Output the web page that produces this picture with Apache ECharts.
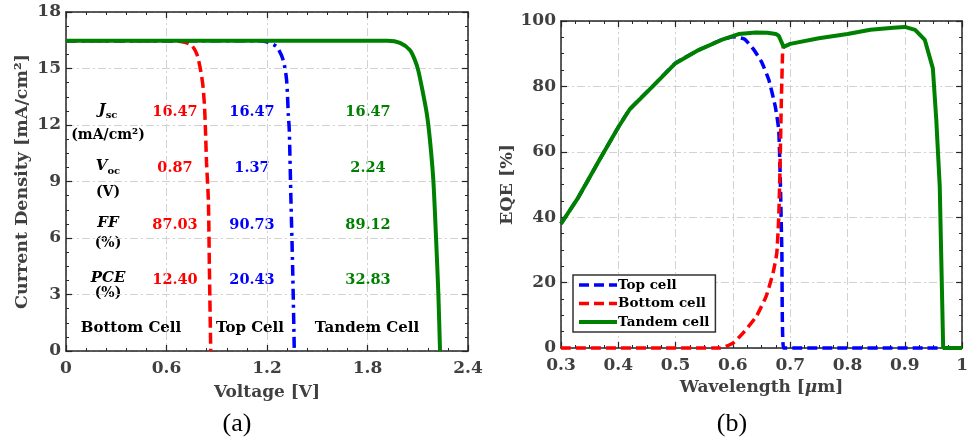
<!DOCTYPE html>
<html><head><meta charset="utf-8">
<script src="https://cdn.jsdelivr.net/npm/echarts@6/dist/echarts.min.js"></script>
<style>html,body{margin:0;padding:0;background:#fff}#c{width:971px;height:441px}</style>
</head><body><div id="c"></div>
<script>
// ---- Panel (a): J-V curves ----
const bottomV = [0, 0.60, 0.70, 0.75, 0.78, 0.80, 0.816, 0.826, 0.832, 0.839, 0.85, 0.856, 0.864];
const bottomJ = [16.47, 16.47, 16.41, 16.23, 15.79, 15.08, 14.2, 13.14, 11.9, 10.0, 8.0, 4.46, 0];
const topV = [0, 1.15, 1.198, 1.258, 1.297, 1.317, 1.327, 1.333, 1.343, 1.353, 1.363];
const topJ = [16.47, 16.47, 16.41, 16.15, 15.44, 14.38, 12.6, 11.72, 8.0, 4.46, 0];
const tandemV = [0, 1.92, 1.994, 2.054, 2.084, 2.103, 2.124, 2.154, 2.173, 2.193, 2.209, 2.223, 2.233];
const tandemJ = [16.47, 16.47, 16.36, 15.97, 15.43, 14.9, 14.02, 12.6, 11.19, 9.07, 6.05, 3.05, 0];

// table of parameters
const paramUnits = ['(mA/cm²)', '(V)', '(%)', '(%)'];
const bottomParams = ['16.47', '0.87', '87.03', '12.40'];
const topParams = ['16.47', '1.37', '90.73', '20.43'];
const tandemParams = ['16.47', '2.24', '89.12', '32.83'];
const cellNames = ['Bottom Cell', 'Top Cell', 'Tandem Cell'];

// ---- Panel (b): EQE ----
const tandemWl = [0.30, 0.33, 0.367, 0.40, 0.42, 0.46, 0.50, 0.54, 0.58, 0.61, 0.64, 0.66, 0.675, 0.68, 0.6885, 0.70, 0.75, 0.80, 0.84, 0.88, 0.90, 0.918, 0.935, 0.949, 0.955, 0.961, 0.967, 1.00];
const tandemEqe = [38.0, 46.0, 57.5, 67.5, 73.0, 80.0, 87.1, 91.1, 94.2, 96.0, 96.5, 96.4, 96.0, 95.5, 92.1, 93.0, 94.7, 96.0, 97.3, 97.9, 98.2, 97.3, 94.2, 85.5, 69.7, 49.4, 0, 0];
const topWl = [0.30, 0.33, 0.367, 0.40, 0.42, 0.46, 0.50, 0.54, 0.58, 0.60, 0.62, 0.637, 0.65, 0.6627, 0.674, 0.68, 0.683, 0.6855, 0.6885, 0.965];
const topEqe = [38.0, 46.0, 57.5, 67.5, 73.0, 80.0, 87.1, 91.1, 94.2, 95.2, 94.5, 91.1, 87.5, 82.0, 73.8, 66.7, 49.4, 29.0, 0, 0];
const botWl = [0.30, 0.578, 0.60, 0.618, 0.641, 0.658, 0.67, 0.6766, 0.68, 0.6823, 0.6846, 0.6869, 0.688];
const botEqe = [0, 0, 1.5, 4.6, 9.7, 15.8, 22.9, 29.0, 40.0, 55.5, 75.9, 91.1, 92.0];

const zip = (a, b) => a.map((v, i) => [v, b[i]]);

const FONT = 'DejaVu Serif';
const AX = '#262626';
const LBL = '#404040';
const GRIDC = '#d2d2d2';

function xAx(grid, min, max, interval, minorSplit, name, nameGap, top) {
  return {
    type: 'value', gridIndex: grid, min: min, max: max, interval: interval,
    position: top ? 'top' : 'bottom',
    name: top ? '' : name, nameLocation: 'middle', nameGap: nameGap,
    nameTextStyle: {fontFamily: FONT, fontWeight: 'bold', fontSize: 17, color: LBL, rich: {i: {fontFamily: FONT, fontWeight: 'bold', fontStyle: 'italic', fontSize: 17, color: LBL}}},
    axisLine: {show: true, onZero: false, lineStyle: {color: AX, width: 1.5}},
    axisTick: {show: true, inside: true, length: 6, lineStyle: {color: AX, width: 1.2}},
    minorTick: {show: true, splitNumber: minorSplit, length: 3, lineStyle: {color: AX, width: 1}},
    axisLabel: {show: !top, margin: 9, fontFamily: FONT, fontWeight: 'bold', fontSize: 17, color: LBL},
    splitLine: {show: !top, lineStyle: {color: GRIDC, width: 1, type: [8, 3, 2, 3]}},
    minorSplitLine: {show: false}
  };
}
function yAx(grid, min, max, interval, minorSplit, name, nameGap, right) {
  return {
    type: 'value', gridIndex: grid, min: min, max: max, interval: interval,
    position: right ? 'right' : 'left',
    name: right ? '' : name, nameLocation: 'middle', nameGap: nameGap, nameRotate: 90,
    nameTextStyle: {fontFamily: FONT, fontWeight: 'bold', fontSize: 17.5, color: LBL},
    axisLine: {show: true, onZero: false, lineStyle: {color: AX, width: 1.5}},
    axisTick: {show: true, inside: true, length: 6, lineStyle: {color: AX, width: 1.2}},
    minorTick: {show: true, splitNumber: minorSplit, length: 3, lineStyle: {color: AX, width: 1}},
    axisLabel: {show: !right, margin: 5, fontFamily: FONT, fontWeight: 'bold', fontSize: 17, color: LBL},
    splitLine: {show: !right, lineStyle: {color: GRIDC, width: 1, type: [8, 3, 2, 3]}},
    minorSplitLine: {show: false}
  };
}

const graphics = [];
const rowY = [112, 168, 225, 280];
const unitY = [135, 192, 243, 293];
const labTxt = ['{i|J}{s|sc}', '{i|V}{s|oc}', '{i|FF}', '{i|PCE}'];
const lblRich = {
  i: {fontFamily: FONT, fontWeight: 'bold', fontStyle: 'italic', fontSize: 15, fill: '#000'},
  s: {fontFamily: FONT, fontWeight: 'bold', fontSize: 10, fill: '#000', padding: [10, 0, 0, 0]}
};
for (let k = 0; k < 4; k++) {
  graphics.push({type: 'text', x: 108, y: rowY[k] - 2, style: {text: labTxt[k], rich: lblRich, align: 'center', verticalAlign: 'middle'}});
  graphics.push({type: 'text', x: 108, y: unitY[k], style: {text: paramUnits[k], fontFamily: FONT, fontWeight: 'bold', fontSize: 14, fill: '#000', align: 'center', verticalAlign: 'middle'}});
  graphics.push({type: 'text', x: 175, y: rowY[k], style: {text: bottomParams[k], fontFamily: FONT, fontWeight: 'bold', fontSize: 14.5, fill: '#ff0000', align: 'center', verticalAlign: 'middle'}});
  graphics.push({type: 'text', x: 252, y: rowY[k], style: {text: topParams[k], fontFamily: FONT, fontWeight: 'bold', fontSize: 14.5, fill: '#0000ff', align: 'center', verticalAlign: 'middle'}});
  graphics.push({type: 'text', x: 368, y: rowY[k], style: {text: tandemParams[k], fontFamily: FONT, fontWeight: 'bold', fontSize: 14.5, fill: '#008000', align: 'center', verticalAlign: 'middle'}});
}
const cellX = [131, 250, 367];
cellNames.forEach((t, i) => graphics.push({type: 'text', x: cellX[i], y: 328, style: {text: t, fontFamily: FONT, fontWeight: 'bold', fontSize: 15, fill: '#000', align: 'center', verticalAlign: 'middle'}}));
graphics.push({type: 'text', x: 237, y: 424, style: {text: '(a)', fontFamily: 'Liberation Serif', fontSize: 26, fill: '#000', align: 'center', verticalAlign: 'middle'}});
graphics.push({type: 'text', x: 732, y: 424, style: {text: '(b)', fontFamily: 'Liberation Serif', fontSize: 26, fill: '#000', align: 'center', verticalAlign: 'middle'}});

const chart = echarts.init(document.getElementById('c'), null, {renderer: 'canvas'});
chart.setOption({
  animation: false,
  backgroundColor: '#fff',
  grid: [
    {left: 66, top: 12, width: 402, height: 339},
    {left: 561, top: 21, width: 407, height: 327}
  ],
  xAxis: [
    xAx(0, 0, 2.4, 0.6, 5, 'Voltage [V]', 33, false),
    xAx(0, 0, 2.4, 0.6, 5, '', 0, true),
    xAx(1, 0.3, 1, 0.1, 4, 'Wavelength [{i|μ}m]', 30, false),
    xAx(1, 0.3, 1, 0.1, 4, '', 0, true)
  ],
  yAxis: [
    yAx(0, 0, 18, 3, 4, 'Current Density [mA/cm²]', 35, false),
    yAx(0, 0, 18, 3, 4, '', 0, true),
    yAx(1, 0, 100, 20, 4, 'EQE [%]', 39, false),
    yAx(1, 0, 100, 20, 4, '', 0, true)
  ],
  legend: {
    orient: 'vertical', left: 573, top: 275,
    data: ['Top cell', 'Bottom cell', 'Tandem cell'],
    backgroundColor: '#fff', borderColor: '#333', borderWidth: 1.5,
    padding: [3, 6, 3, 4], itemWidth: 38, itemHeight: 14, itemGap: 4.5,
    itemStyle: {opacity: 0},
    lineStyle: {width: 'inherit'},
    textStyle: {fontFamily: FONT, fontWeight: 'bold', fontSize: 13.5, color: '#000', padding: [0, 0, 0, -4]}
  },
  series: [
    {name: 'Bottom IV', type: 'line', xAxisIndex: 0, yAxisIndex: 0, data: zip(bottomV, bottomJ), showSymbol: false, symbol: 'none', clip: false, smooth: 0.25,
      lineStyle: {color: '#ff0000', width: 3.5, type: [11, 5]}},
    {name: 'Top IV', type: 'line', xAxisIndex: 0, yAxisIndex: 0, data: zip(topV, topJ), showSymbol: false, symbol: 'none', clip: false, smooth: 0.25,
      lineStyle: {color: '#0000ff', width: 3.5, type: [11, 5, 3, 5]}},
    {name: 'Tandem IV', type: 'line', xAxisIndex: 0, yAxisIndex: 0, data: zip(tandemV, tandemJ), showSymbol: false, symbol: 'none', clip: false, smooth: 0.25,
      lineStyle: {color: '#008000', width: 4}},
    {name: 'Top cell', type: 'line', xAxisIndex: 2, yAxisIndex: 2, data: zip(topWl, topEqe), showSymbol: false, symbol: 'none', clip: false, smooth: 0.15,
      color: '#0000ff', lineStyle: {color: '#0000ff', width: 3.5, type: [10, 5]}},
    {name: 'Bottom cell', type: 'line', xAxisIndex: 2, yAxisIndex: 2, data: zip(botWl, botEqe), showSymbol: false, symbol: 'none', clip: false, smooth: 0.15,
      color: '#ff0000', lineStyle: {color: '#ff0000', width: 3.5, type: [10, 5]}},
    {name: 'Tandem cell', type: 'line', xAxisIndex: 2, yAxisIndex: 2, data: zip(tandemWl, tandemEqe), showSymbol: false, symbol: 'none', clip: false,
      color: '#008000', lineStyle: {color: '#008000', width: 4}}
  ],
  graphic: graphics
});
</script></body></html>
